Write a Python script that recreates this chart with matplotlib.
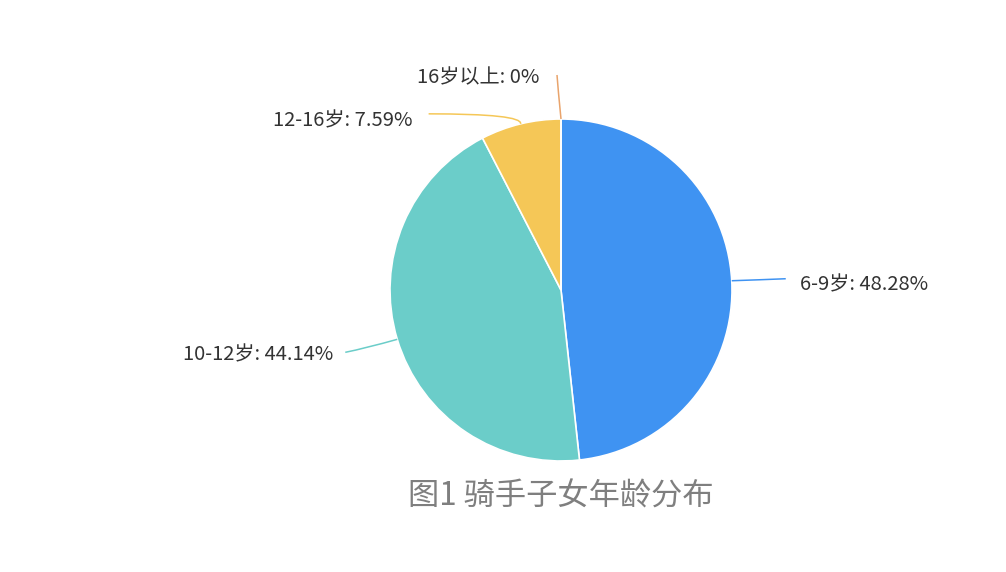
import numpy as np
import matplotlib
matplotlib.use('Agg')
import matplotlib.pyplot as plt
from matplotlib.path import Path
from matplotlib.patches import PathPatch

plt.rcParams['font.family'] = ['Noto Sans CJK SC', 'DejaVu Sans']

# data
labels = ['6-9岁', '10-12岁', '12-16岁', '16岁以上']
values = [48.28, 44.14, 7.59, 0.0]
colors = ['#3f93f2', '#6bcdc9', '#f5c757', '#e9a46c']
title = '图1 骑手子女年龄分布'

W, H = 1006, 572
fig = plt.figure(figsize=(W / 100, H / 100), dpi=100)
ax = fig.add_axes([0, 0, 1, 1])

cx, cy, r = 561, H - 290, 171
ax.pie(values, colors=colors, startangle=90, counterclock=False,
       center=(cx, cy), radius=r, frame=True,
       wedgeprops=dict(edgecolor='white', linewidth=1.2))
ax.set_xlim(0, W)
ax.set_ylim(0, H)
ax.set_aspect('equal')
ax.axis('off')

# leader lines + labels: (elbow offset, end offset, text offset, ha)
layout = [
    ((30, 1), (54, 2), (68, -4), 'left'),
    ((-32, -9), (-52, -13), (-64, -16), 'right'),
    ((2, 10), (-92, 10), (-108, 3), 'right'),
    ((-3, 30), (-4, 44), (-22, 41), 'right'),
]

total = sum(values)
start = 90.0
for lab, v, col, (elb, end, toff, ha) in zip(labels, values, colors, layout):
    sweep = 360.0 * v / total
    mid = np.deg2rad(start - sweep / 2)
    start -= sweep
    px, py = cx + r * np.cos(mid), cy + r * np.sin(mid)
    p1 = (px + elb[0], py + elb[1])
    p2 = (px + end[0], py + end[1])
    path = Path([(px, py), p1, p2], [Path.MOVETO, Path.CURVE3, Path.CURVE3])
    ax.add_patch(PathPatch(path, fill=False, edgecolor=col, lw=1.1))
    ax.text(px + toff[0], py + toff[1], f'{lab}: {v:g}%', ha=ha, va='center',
            fontsize=14.5, fontweight='medium', color='#333333')

ax.text(cx, H - 497, title, ha='center', va='center', fontsize=22.5,
        color='#7f7f7f')

fig.savefig('out.png', dpi=100, facecolor='white')
